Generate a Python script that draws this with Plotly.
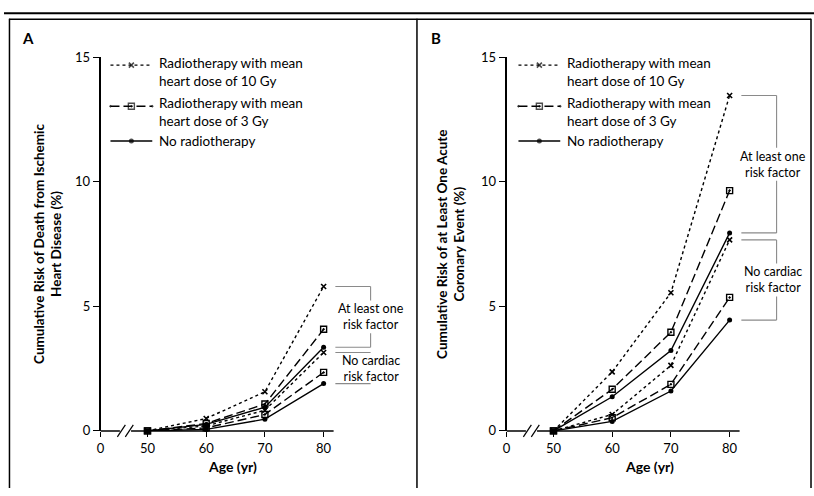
import plotly.graph_objects as go

# ---------------- data ----------------
AGES = [50, 60, 70, 80]
TICK_AGES = [0, 50, 60, 70, 80]
TICK_TEXT = ["0", "50", "60", "70", "80"]
Y_TICKS = [0, 5, 10, 15]
Y_TICK_TEXT = ["0", "5", "10", "15"]

# Panel A: cumulative risk of death from ischemic heart disease (%)
A_10GY_RISK = [0, 0.50, 1.57, 5.80]
A_3GY_RISK = [0, 0.30, 1.08, 4.08]
A_NONE_RISK = [0, 0.26, 0.95, 3.36]
A_10GY_NORISK = [0, 0.20, 0.83, 3.15]
A_3GY_NORISK = [0, 0.12, 0.66, 2.35]
A_NONE_NORISK = [0, 0.06, 0.47, 1.90]

# Panel B: cumulative risk of at least one acute coronary event (%)
B_10GY_RISK = [0, 2.37, 5.55, 13.47]
B_3GY_RISK = [0, 1.67, 3.96, 9.65]
B_NONE_RISK = [0, 1.37, 3.23, 7.95]
B_10GY_NORISK = [0, 0.66, 2.63, 7.67]
B_3GY_NORISK = [0, 0.53, 1.87, 5.36]
B_NONE_NORISK = [0, 0.38, 1.60, 4.45]

LEGEND_LINES = [
    ["Radiotherapy with mean", "heart dose of 10 Gy"],
    ["Radiotherapy with mean", "heart dose of 3 Gy"],
    ["No radiotherapy"],
]
GROUP_LABELS = [["At least one", "risk factor"], ["No cardiac", "risk factor"]]
Y_TITLES = [
    "Cumulative Risk of Death from Ischemic<br>Heart Disease (%)",
    "Cumulative Risk of at Least One Acute<br>Coronary Event (%)",
]
X_TITLE = "Age (yr)"
PANEL_LETTERS = ["A", "B"]

# ---------------- layout helpers ----------------
W, H = 814, 496
FONT = "Lato"
AGE_GAP = 42          # broken x axis: ages >= 50 are shifted left
PX_PER_UNIT = 5.9
X_RANGE = [0, 47]
AXIS_END = 39.7
Y0_PX, Y15_PX = 437, 51
PX_PER_Y = (Y0_PX - Y15_PX) / 15.0
LABEL_GAP = 17 / PX_PER_Y   # half height of bracket label block, in y units


def axis_pos(age):
    return age - AGE_GAP if age >= 50 else age


X_POS = [axis_pos(a) for a in AGES]
TICK_POS = [axis_pos(a) for a in TICK_AGES]

STYLE = {
    "10": dict(dash="dot", symbol="x-thin", size=5, mlw=1.6),
    "3": dict(dash="9px,4px", symbol="square-open-dot", size=6, mlw=1.4),
    "0": dict(dash="solid", symbol="circle", size=5, mlw=0),
}

fig = go.Figure()

panels = [
    dict(x0px=97, xa="x", ya="y",
         risk=[A_10GY_RISK, A_3GY_RISK, A_NONE_RISK],
         norisk=[A_10GY_NORISK, A_3GY_NORISK, A_NONE_NORISK],
         title_x=22.5, ytitle_px=44, legend_x=107, text_x=155, label_x=46),
    dict(x0px=505, xa="x2", ya="y2",
         risk=[B_10GY_RISK, B_3GY_RISK, B_NONE_RISK],
         norisk=[B_10GY_NORISK, B_3GY_NORISK, B_NONE_NORISK],
         title_x=24.4, ytitle_px=449, legend_x=517, text_x=565, label_x=45.4),
]

keys = ["10", "3", "0"]

shapes = []
annotations = []


def add_series(p, ys, key):
    s = STYLE[key]
    fig.add_trace(go.Scatter(
        x=X_POS, y=ys, xaxis=p["xa"], yaxis=p["ya"], mode="lines+markers",
        line=dict(color="black", width=1.4, dash=s["dash"]),
        marker=dict(symbol=s["symbol"], size=s["size"], color="black",
                    line=dict(color="black", width=s["mlw"])),
        cliponaxis=False, showlegend=False, hoverinfo="skip"))


for i, p in enumerate(panels):
    for group in (p["norisk"], p["risk"]):
        for ys, key in zip(group, keys):
            add_series(p, ys, key)

    xref, yref = p["xa"], p["ya"]
    ydom = yref + " domain"
    # x axis line
    shapes.append(dict(type="line", xref=xref, yref=ydom, x0=0, x1=AXIS_END,
                       y0=0, y1=0, line=dict(color="black", width=1.5)))
    # axis break
    shapes.append(dict(type="rect", xref=xref, yref=ydom, x0=3.3, x1=5.2,
                       ysizemode="pixel", yanchor=0, y0=-3, y1=3,
                       fillcolor="white", line=dict(width=0)))
    for anchor in (3.55, 4.9):
        shapes.append(dict(type="line", xref=xref, yref=ydom,
                           xsizemode="pixel", xanchor=anchor, x0=-4, x1=4,
                           ysizemode="pixel", yanchor=0, y0=-6, y1=6,
                           line=dict(color="black", width=1.2)))
    # brackets
    bline = dict(color="#8a8a8a", width=1.1)
    for g, group in enumerate((p["risk"], p["norisk"])):
        top = group[0][-1]
        bot = group[2][-1]
        mid = (top + bot) / 2
        shapes.append(dict(type="line", xref=xref, yref=yref, x0=40, x1=46,
                           y0=top, y1=top, line=bline))
        shapes.append(dict(type="line", xref=xref, yref=yref, x0=40, x1=46,
                           y0=bot, y1=bot, line=bline))
        if top - mid > LABEL_GAP:
            shapes.append(dict(type="line", xref=xref, yref=yref, x0=46, x1=46,
                               y0=top, y1=mid + LABEL_GAP, line=bline))
            shapes.append(dict(type="line", xref=xref, yref=yref, x0=46, x1=46,
                               y0=mid - LABEL_GAP, y1=bot, line=bline))
        annotations.append(dict(
            xref=xref, yref=yref, x=p["label_x"], y=mid,
            text="<br>".join(GROUP_LABELS[g]), showarrow=False,
            font=dict(family=FONT, size=12.5, color="black"),
            borderpad=0, align="center"))
    # x title
    annotations.append(dict(xref=xref, yref="y3", x=p["title_x"], y=474,
                            text=f"<b>{X_TITLE}</b>", showarrow=False,
                            font=dict(family=FONT, size=14, color="black")))
    # y title
    annotations.append(dict(xref="x3", yref="y3", x=p["ytitle_px"], y=244,
                            text=f"<b>{Y_TITLES[i]}</b>", showarrow=False,
                            textangle=-90,
                            font=dict(family=FONT, size=13.5, color="black")))
    # panel letter
    annotations.append(dict(xref="x3", yref="y3", x=24 + 410 * i, y=31,
                            text=f"<b>{PANEL_LETTERS[i]}</b>", showarrow=False,
                            font=dict(family=FONT, size=15, color="black")))

    # legend (drawn in pixel overlay axis)
    sym_y = [59, 101.5, 137.5]
    text_y = [66, 107.5, 137]
    for k, key in enumerate(keys):
        s = STYLE[key]
        lx0 = p["legend_x"]
        fig.add_trace(go.Scatter(
            x=[lx0, lx0 + 21, lx0 + 42], y=[sym_y[k]] * 3, xaxis="x3", yaxis="y3",
            mode="lines+markers",
            line=dict(color="black", width=1.4, dash=s["dash"]),
            marker=dict(symbol=s["symbol"], size=[0, s["size"], 0], color="black",
                        line=dict(color="black", width=s["mlw"])),
            showlegend=False, hoverinfo="skip"))
        annotations.append(dict(xref="x3", yref="y3", x=p["text_x"], y=text_y[k],
                                text="<br>".join(LEGEND_LINES[k]), showarrow=False,
                                xanchor="left", align="left", borderpad=0,
                                font=dict(family=FONT, size=13.5, color="black")))

# frame
frame = dict(color="black", width=1.5)
shapes += [
    dict(type="line", xref="x3", yref="y3", x0=0, x1=W, y0=5.5, y1=5.5,
         line=dict(color="black", width=2)),
    dict(type="line", xref="x3", yref="y3", x0=5, x1=811, y0=11.5, y1=11.5, line=frame),
    dict(type="line", xref="x3", yref="y3", x0=5.5, x1=5.5, y0=11, y1=H + 5, line=frame),
    dict(type="line", xref="x3", yref="y3", x0=415, x1=415, y0=11, y1=H + 5, line=frame),
    dict(type="line", xref="x3", yref="y3", x0=811, x1=811, y0=11, y1=H + 5, line=frame),
]

ydomain = [1 - Y0_PX / H, 1 - Y15_PX / H]
tickfont = dict(family=FONT, size=13, color="black")


def xaxis_cfg(x0px, anchor):
    return dict(domain=[x0px / W, (x0px + X_RANGE[1] * PX_PER_UNIT) / W],
                range=X_RANGE, anchor=anchor, showline=False, showgrid=False,
                zeroline=False, ticks="outside", ticklen=5, tickwidth=1.4,
                tickcolor="black", tickvals=TICK_POS, ticktext=TICK_TEXT,
                tickfont=tickfont, fixedrange=True)


def yaxis_cfg(anchor):
    return dict(domain=ydomain, range=[0, 15], anchor=anchor, showline=True,
                linecolor="black", linewidth=1.5, showgrid=False, zeroline=False,
                ticks="outside", ticklen=6, tickwidth=1.4, tickcolor="black",
                tickvals=Y_TICKS, ticktext=Y_TICK_TEXT, tickfont=tickfont,
                fixedrange=True)


fig.update_layout(
    width=W, height=H, margin=dict(l=0, r=0, t=0, b=0, pad=0),
    paper_bgcolor="white", plot_bgcolor="rgba(0,0,0,0)",
    xaxis=xaxis_cfg(97, "y"), yaxis=yaxis_cfg("x"),
    xaxis2=xaxis_cfg(505, "y2"), yaxis2=yaxis_cfg("x2"),
    xaxis3=dict(domain=[0, 1], range=[0, W], anchor="y3", visible=False,
                fixedrange=True),
    yaxis3=dict(domain=[0, 1], range=[H, 0], anchor="x3", visible=False,
                fixedrange=True),
    shapes=shapes, annotations=annotations, showlegend=False,
    font=dict(family=FONT, color="black"),
)

fig.write_html("out.html", config={"displayModeBar": False},
               post_script="document.body.style.margin='0';document.body.style.overflow='hidden';")
